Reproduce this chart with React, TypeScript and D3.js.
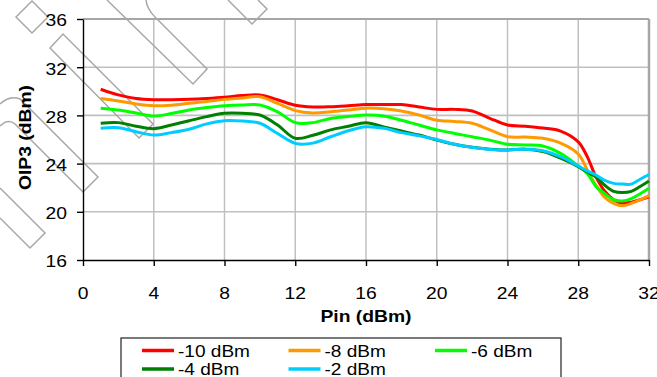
import React, { useEffect, useRef } from 'react'
import * as d3 from 'd3'

// input power (dBm) where each curve was sampled
const pin = [1, 2, 3, 4, 5, 6, 7, 8, 9, 10, 11, 12, 13, 14, 15, 16, 17, 18, 19, 20, 21, 22, 23, 24, 25, 26, 27, 28, 28.5, 29, 29.5, 30, 30.5, 31, 31.5, 32]

const oipM10 = [30.17, 29.7, 29.4, 29.3, 29.3, 29.33, 29.4, 29.5, 29.65, 29.7, 29.3, 28.84, 28.7, 28.72, 28.8, 28.9, 28.9, 28.9, 28.7, 28.5, 28.5, 28.37, 27.76, 27.2, 27.1, 26.95, 26.7, 25.8, 24.6, 22.9, 21.7, 21.0, 20.7, 20.8, 21.0, 21.25]
const oipM8 = [29.4, 29.2, 28.95, 28.8, 28.85, 29.0, 29.15, 29.33, 29.45, 29.55, 29.0, 28.4, 28.2, 28.3, 28.45, 28.6, 28.55, 28.37, 28.03, 27.6, 27.5, 27.35, 26.8, 26.23, 26.2, 26.1, 25.7, 24.8, 23.5, 22.2, 21.2, 20.7, 20.5, 20.7, 21.0, 21.35]
const oipM6 = [28.6, 28.45, 28.2, 27.95, 28.15, 28.45, 28.65, 28.8, 28.87, 28.87, 28.3, 27.4, 27.4, 27.75, 27.9, 28.03, 27.95, 27.6, 27.2, 26.8, 26.5, 26.23, 25.95, 25.6, 25.55, 25.46, 24.85, 23.8, 23.2, 22.1, 21.5, 21.0, 20.9, 21.1, 21.5, 21.95]
const oipM4 = [27.35, 27.4, 27.1, 26.9, 27.2, 27.56, 27.9, 28.17, 28.17, 28.03, 27.2, 26.1, 26.35, 26.8, 27.1, 27.4, 27.05, 26.7, 26.37, 25.95, 25.6, 25.35, 25.2, 25.13, 25.2, 25.0, 24.45, 23.75, 23.3, 22.9, 22.2, 21.7, 21.6, 21.7, 22.1, 22.55]
const oipM2 = [26.93, 26.98, 26.65, 26.37, 26.57, 26.85, 27.3, 27.56, 27.53, 27.35, 26.5, 25.68, 25.7, 26.23, 26.73, 27.06, 26.93, 26.57, 26.3, 26.0, 25.6, 25.35, 25.18, 25.13, 25.2, 25.07, 24.57, 23.8, 23.4, 23.05, 22.6, 22.36, 22.3, 22.3, 22.7, 23.1]

const seriesNames = ['-10 dBm', '-8 dBm', '-6 dBm', '-4 dBm', '-2 dBm']
const seriesValues = [oipM10, oipM8, oipM6, oipM4, oipM2]
const colors = ['#ff0000', '#ff9900', '#00ff00', '#008000', '#00ccff']

const xTicks = [0, 4, 8, 12, 16, 20, 24, 28, 32]
const yTicks = [16, 20, 24, 28, 32, 36]

const W = 657, H = 377
const FONT = "Arial, 'Liberation Sans', sans-serif"
const SX = 1.17 // the original font runs wider than Arial

function addText(parent: any, x: number, y: number, str: string, anchor: string, size: number, weight = 'normal', rot = 0) {
  parent.append('g')
    .attr('transform', `translate(${x},${y}) rotate(${rot}) scale(${SX},1)`)
    .append('text')
    .attr('text-anchor', anchor)
    .attr('font-family', FONT)
    .attr('font-size', size)
    .attr('font-weight', weight)
    .attr('fill', '#000')
    .text(str)
}

export default function App() {
  const ref = useRef<SVGSVGElement>(null)

  useEffect(() => {
    const svg = d3.select(ref.current)
    svg.selectAll('*').remove()

    const margin = { top: 19, right: 8, bottom: 117, left: 83 }
    const x = d3.scaleLinear().domain([0, 32]).range([margin.left, W - margin.right])
    const y = d3.scaleLinear().domain([16, 36]).range([H - margin.bottom, margin.top])

    // grid
    const grid = svg.append('g')
    grid.selectAll('.hg').data(yTicks.filter(d => d > 16 && d < 36)).join('line')
      .attr('x1', x(0)).attr('x2', x(32)).attr('y1', d => y(d)).attr('y2', d => y(d))
      .attr('stroke', '#c0c0c0').attr('stroke-width', 1.6)
    grid.selectAll('.vg').data(xTicks.filter(d => d > 0 && d < 32)).join('line')
      .attr('x1', d => x(d)).attr('x2', d => x(d)).attr('y1', y(16)).attr('y2', y(36))
      .attr('stroke', '#c0c0c0').attr('stroke-width', 1.5)
    grid.append('line').attr('x1', x(0)).attr('x2', x(32)).attr('y1', y(36)).attr('y2', y(36))
      .attr('stroke', '#a6a6a6').attr('stroke-width', 1.8)
    grid.append('line').attr('x1', x(32)).attr('x2', x(32)).attr('y1', y(36)).attr('y2', y(16))
      .attr('stroke', '#a6a6a6').attr('stroke-width', 2.5)

    // faint outline shapes behind the curves
    const wm = svg.append('g').attr('fill', 'none').attr('stroke', '#a8a8a8').attr('stroke-width', 1.5)
    const shapes = [
      'M16,17 L32,1 L48,17 L32,33 Z',
      'M50,48 L63,34 L153,124 L139,138 Z',
      'M0,104 Q10,95 20,99 L98,177 L83,192 L15,124 Q8,118 0,126',
      'M0,188 L45,233 L30,248 L0,218',
      'M107,0 L193,84 L207,69 L155,17 Q147,9 146,0',
      'M228,0 L252,24 L267,9 L258,0'
    ]
    wm.selectAll('path').data(shapes).join('path').attr('d', d => d)

    // curves
    const line = d3.line<[number, number]>()
      .x(d => x(d[0])).y(d => y(d[1]))
      .curve(d3.curveCatmullRom.alpha(0.5))
    svg.append('g').selectAll('path')
      .data(seriesValues.map(vals => pin.map((p, i) => [p, vals[i]] as [number, number])))
      .join('path')
      .attr('d', d => line(d))
      .attr('fill', 'none')
      .attr('stroke', (d, i) => colors[i])
      .attr('stroke-width', 3)
      .attr('stroke-linejoin', 'round')

    // axes
    const xAxis = svg.append('g').attr('transform', `translate(0,${y(16)})`)
      .call(d3.axisBottom(x).tickValues(xTicks).tickSize(6).tickSizeOuter(0).tickFormat(() => ''))
    const yAxis = svg.append('g').attr('transform', `translate(${x(0)},0)`)
      .call(d3.axisLeft(y).tickValues(yTicks).tickSize(6).tickSizeOuter(0).tickFormat(() => ''))
    for (const a of [xAxis, yAxis]) {
      a.selectAll('path,line').attr('stroke', '#000').attr('stroke-width', 1.4)
    }

    const labels = svg.append('g')
    yTicks.forEach(v => addText(labels, 67, y(v) + 7.3, String(v), 'end', 16.5))
    xTicks.forEach(v => addText(labels, x(v), 299, String(v), 'middle', 16.5))
    addText(labels, (x(0) + x(32)) / 2, 322, 'Pin (dBm)', 'middle', 16.5, 'bold')
    addText(labels, 30.5, (y(16) + y(36)) / 2 - 2, 'OIP3 (dBm)', 'middle', 16.5, 'bold', -90)

    // legend
    const lg = svg.append('g')
    lg.append('rect').attr('x', 121).attr('y', 338).attr('width', 440).attr('height', 60)
      .attr('fill', '#fff').attr('stroke', '#222').attr('stroke-width', 1.2)
    seriesNames.forEach((name, i) => {
      const lx = 142 + (i % 3) * 146.5
      const ly = 350.5 + Math.floor(i / 3) * 18.5
      lg.append('line').attr('x1', lx).attr('x2', lx + 32).attr('y1', ly).attr('y2', ly)
        .attr('stroke', colors[i]).attr('stroke-width', 3.5)
      addText(lg, lx + 36, ly + 6, name, 'start', 16.3)
    })
  }, [])

  return (
    <svg ref={ref} width={W} height={H}
      style={{ position: 'absolute', left: 0, top: 0, background: '#fff' }} />
  )
}
